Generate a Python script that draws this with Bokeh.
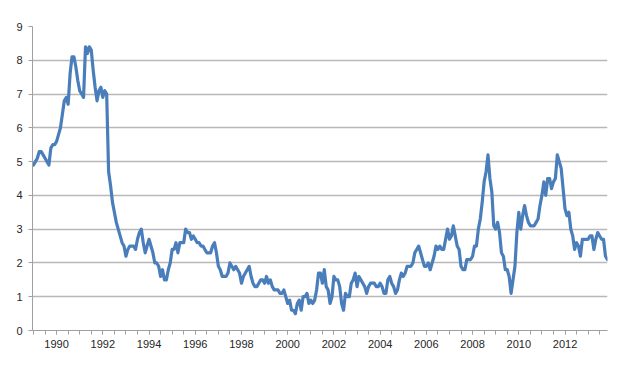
from bokeh.plotting import figure
from bokeh.models import FixedTicker, Range1d, ColumnDataSource
from bokeh.embed import file_html
from bokeh.resources import INLINE

# Monthly annual inflation rate (%), Jan 1989 - Nov 2013
cpi_1989 = [4.9, 5.0, 5.1, 5.3, 5.3, 5.2, 5.1, 5.0, 4.9, 5.4, 5.5, 5.5]
cpi_1990 = [5.6, 5.8, 6.0, 6.4, 6.8, 6.9, 6.7, 7.6, 8.1, 8.1, 7.8, 7.4]
cpi_1991 = [7.1, 7.0, 6.9, 8.4, 8.2, 8.4, 8.3, 7.7, 7.2, 6.8, 7.1, 7.2]
cpi_1992 = [6.9, 7.1, 7.0, 4.7, 4.3, 3.8, 3.5, 3.2, 3.0, 2.8, 2.6, 2.5]
cpi_1993 = [2.2, 2.4, 2.5, 2.5, 2.5, 2.4, 2.7, 2.9, 3.0, 2.6, 2.3, 2.5]
cpi_1994 = [2.7, 2.5, 2.3, 2.0, 2.0, 1.9, 1.6, 1.8, 1.5, 1.5, 1.8, 2.0]
cpi_1995 = [2.4, 2.4, 2.6, 2.3, 2.6, 2.6, 2.6, 3.0, 2.9, 2.9, 2.7, 2.8]
cpi_1996 = [2.7, 2.6, 2.6, 2.5, 2.5, 2.4, 2.3, 2.3, 2.3, 2.5, 2.6, 2.3]
cpi_1997 = [1.9, 1.8, 1.6, 1.6, 1.6, 1.7, 2.0, 1.9, 1.8, 1.9, 1.8, 1.7]
cpi_1998 = [1.4, 1.6, 1.7, 1.8, 1.9, 1.6, 1.4, 1.3, 1.3, 1.4, 1.5, 1.5]
cpi_1999 = [1.4, 1.6, 1.4, 1.5, 1.3, 1.2, 1.2, 1.2, 1.1, 1.1, 1.2, 1.0]
cpi_2000 = [0.8, 0.9, 0.6, 0.6, 0.5, 0.8, 0.9, 0.6, 1.0, 1.0, 1.1, 0.8]
cpi_2001 = [0.9, 0.8, 0.9, 1.2, 1.7, 1.7, 1.4, 1.8, 1.3, 1.2, 0.8, 1.0]
cpi_2002 = [1.6, 1.5, 1.5, 1.3, 0.8, 0.6, 1.1, 1.0, 1.0, 1.4, 1.5, 1.7]
cpi_2003 = [1.3, 1.6, 1.5, 1.4, 1.3, 1.1, 1.3, 1.4, 1.4, 1.4, 1.3, 1.3]
cpi_2004 = [1.4, 1.3, 1.1, 1.1, 1.5, 1.6, 1.4, 1.3, 1.1, 1.2, 1.5, 1.7]
cpi_2005 = [1.6, 1.7, 1.9, 1.9, 1.9, 2.0, 2.3, 2.4, 2.5, 2.3, 2.1, 1.9]
cpi_2006 = [1.9, 2.0, 1.8, 2.0, 2.2, 2.5, 2.4, 2.5, 2.4, 2.4, 2.7, 3.0]
cpi_2007 = [2.7, 2.8, 3.1, 2.8, 2.5, 2.4, 1.9, 1.8, 1.8, 2.1, 2.1, 2.1]
cpi_2008 = [2.2, 2.5, 2.5, 3.0, 3.3, 3.8, 4.4, 4.7, 5.2, 4.5, 4.1, 3.1]
cpi_2009 = [3.0, 3.2, 2.9, 2.3, 2.2, 1.8, 1.8, 1.6, 1.1, 1.5, 1.9, 2.9]
cpi_2010 = [3.5, 3.0, 3.4, 3.7, 3.4, 3.2, 3.1, 3.1, 3.1, 3.2, 3.3, 3.7]
cpi_2011 = [4.0, 4.4, 4.0, 4.5, 4.5, 4.2, 4.4, 4.5, 5.2, 5.0, 4.8, 4.2]
cpi_2012 = [3.6, 3.4, 3.5, 3.0, 2.8, 2.4, 2.6, 2.5, 2.2, 2.7, 2.7, 2.7]
cpi_2013 = [2.7, 2.8, 2.8, 2.4, 2.7, 2.9, 2.8, 2.7, 2.7, 2.2, 2.1]

first_year = 1989
year_labels = [1990, 1992, 1994, 1996, 1998, 2000, 2002, 2004, 2006, 2008, 2010, 2012]
y_ticks = [0, 1, 2, 3, 4, 5, 6, 7, 8, 9]

series = (cpi_1989 + cpi_1990 + cpi_1991 + cpi_1992 + cpi_1993 + cpi_1994 +
          cpi_1995 + cpi_1996 + cpi_1997 + cpi_1998 + cpi_1999 + cpi_2000 +
          cpi_2001 + cpi_2002 + cpi_2003 + cpi_2004 + cpi_2005 + cpi_2006 +
          cpi_2007 + cpi_2008 + cpi_2009 + cpi_2010 + cpi_2011 + cpi_2012 +
          cpi_2013)
dates = [first_year + i / 12 for i in range(len(series))]
src = ColumnDataSource(dict(x=dates, y=series))

x_start = first_year - 0.043
x_end = dates[-1] + 0.005

p = figure(width=612, height=353, output_backend="svg", toolbar_location=None,
           x_range=Range1d(x_start, x_end), y_range=Range1d(0, 9),
           min_border_left=32, min_border_right=5, min_border_top=26,
           min_border_bottom=23)
p.outline_line_color = None
p.background_fill_color = "white"
p.border_fill_color = "white"

p.line("x", "y", source=src, line_color="#4a7ebb", line_width=3.2,
       line_join="round", line_cap="round")

half_years = [first_year + k * 0.5 for k in range(0, 50)]
p.xaxis.ticker = FixedTicker(ticks=year_labels, minor_ticks=half_years)
p.yaxis.ticker = FixedTicker(ticks=y_ticks)

p.xgrid.grid_line_color = None
p.ygrid.grid_line_color = "#b8b8b8"
p.ygrid.grid_line_width = 1.5

for ax in (p.xaxis, p.yaxis):
    ax.axis_line_color = "#a0a0a0"
    ax.axis_line_width = 1
    ax.major_tick_line_color = "#a0a0a0"
    ax.minor_tick_line_color = "#a0a0a0"
    ax.major_tick_in = 0
    ax.major_tick_out = 4
    ax.minor_tick_in = 0
    ax.major_label_text_font = "Liberation Sans"
    ax.major_label_text_font_size = "11px"
    ax.major_label_text_color = "#262626"

p.xaxis.minor_tick_out = 4
p.yaxis.minor_tick_out = 0
p.xaxis.major_label_standoff = 5
p.yaxis.major_label_standoff = 6

open("out.html", "w").write(file_html(p, INLINE))
